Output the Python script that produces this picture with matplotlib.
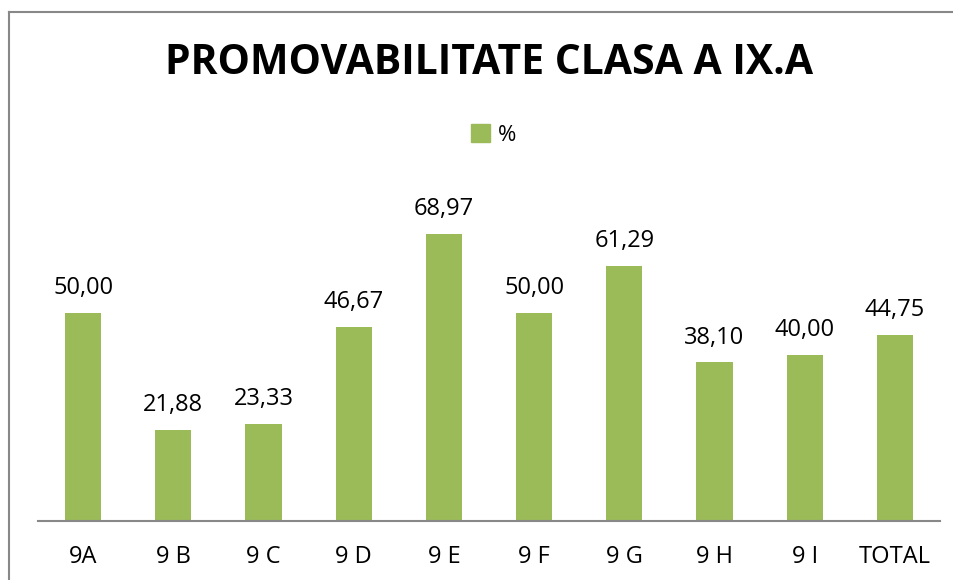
import matplotlib
matplotlib.use("Agg")
import matplotlib.pyplot as plt
from matplotlib.lines import Line2D
from matplotlib.patches import Patch

categories = ["9A", "9 B", "9 C", "9 D", "9 E", "9 F", "9 G", "9 H", "9 I", "TOTAL"]
values = [50.00, 21.88, 23.33, 46.67, 68.97, 50.00, 61.29, 38.10, 40.00, 44.75]
series_name = "%"
title = "PROMOVABILITATE CLASA A IX.A"

W, H = 954, 580
bar_color = "#9BBB59"
font = ["Open Sans", "DejaVu Sans"]

fig = plt.figure(figsize=(W / 100, H / 100), dpi=100)
ymax = 80
ax = fig.add_axes([38 / W, 1 - 521 / H, (940 - 38) / W, (521 - 188) / H])

x = range(len(categories))
bars = ax.bar(x, values, width=0.4, color=bar_color)
for b, v in zip(bars, values):
    ax.text(b.get_x() + b.get_width() / 2, v + 3.0, f"{v:.2f}".replace(".", ","),
            ha="center", va="bottom", fontsize=17, family=font)

ax.set_xlim(-0.5, len(categories) - 0.5)
ax.set_ylim(0, ymax)
ax.set_xticks(list(x))
ax.set_xticklabels(categories, fontsize=17, family=font)
ax.tick_params(axis="x", length=0, pad=17)
ax.set_yticks([])
for s in ["top", "right", "left"]:
    ax.spines[s].set_visible(False)
ax.spines["bottom"].set_color("#888888")
ax.spines["bottom"].set_linewidth(1.5)

fig.text(489 / W, 1 - 63 / H, title, ha="center", va="center",
         fontsize=29.4, fontweight="bold", family=font)

fig.legend(handles=[Patch(color=bar_color, label=series_name)],
           loc="center", bbox_to_anchor=(494 / W, 1 - 135 / H), frameon=False,
           prop={"family": font, "size": 16}, handlelength=0.85, handleheight=0.85,
           handletextpad=0.35)

# chart border (only top and left edges are inside the crop)
fig.add_artist(Line2D([9 / W, 1], [1 - 12 / H, 1 - 12 / H], color="#888888", lw=1.5))
fig.add_artist(Line2D([9 / W, 9 / W], [1 - 12 / H, 0], color="#888888", lw=1.5))

fig.savefig("out.png", dpi=100)
